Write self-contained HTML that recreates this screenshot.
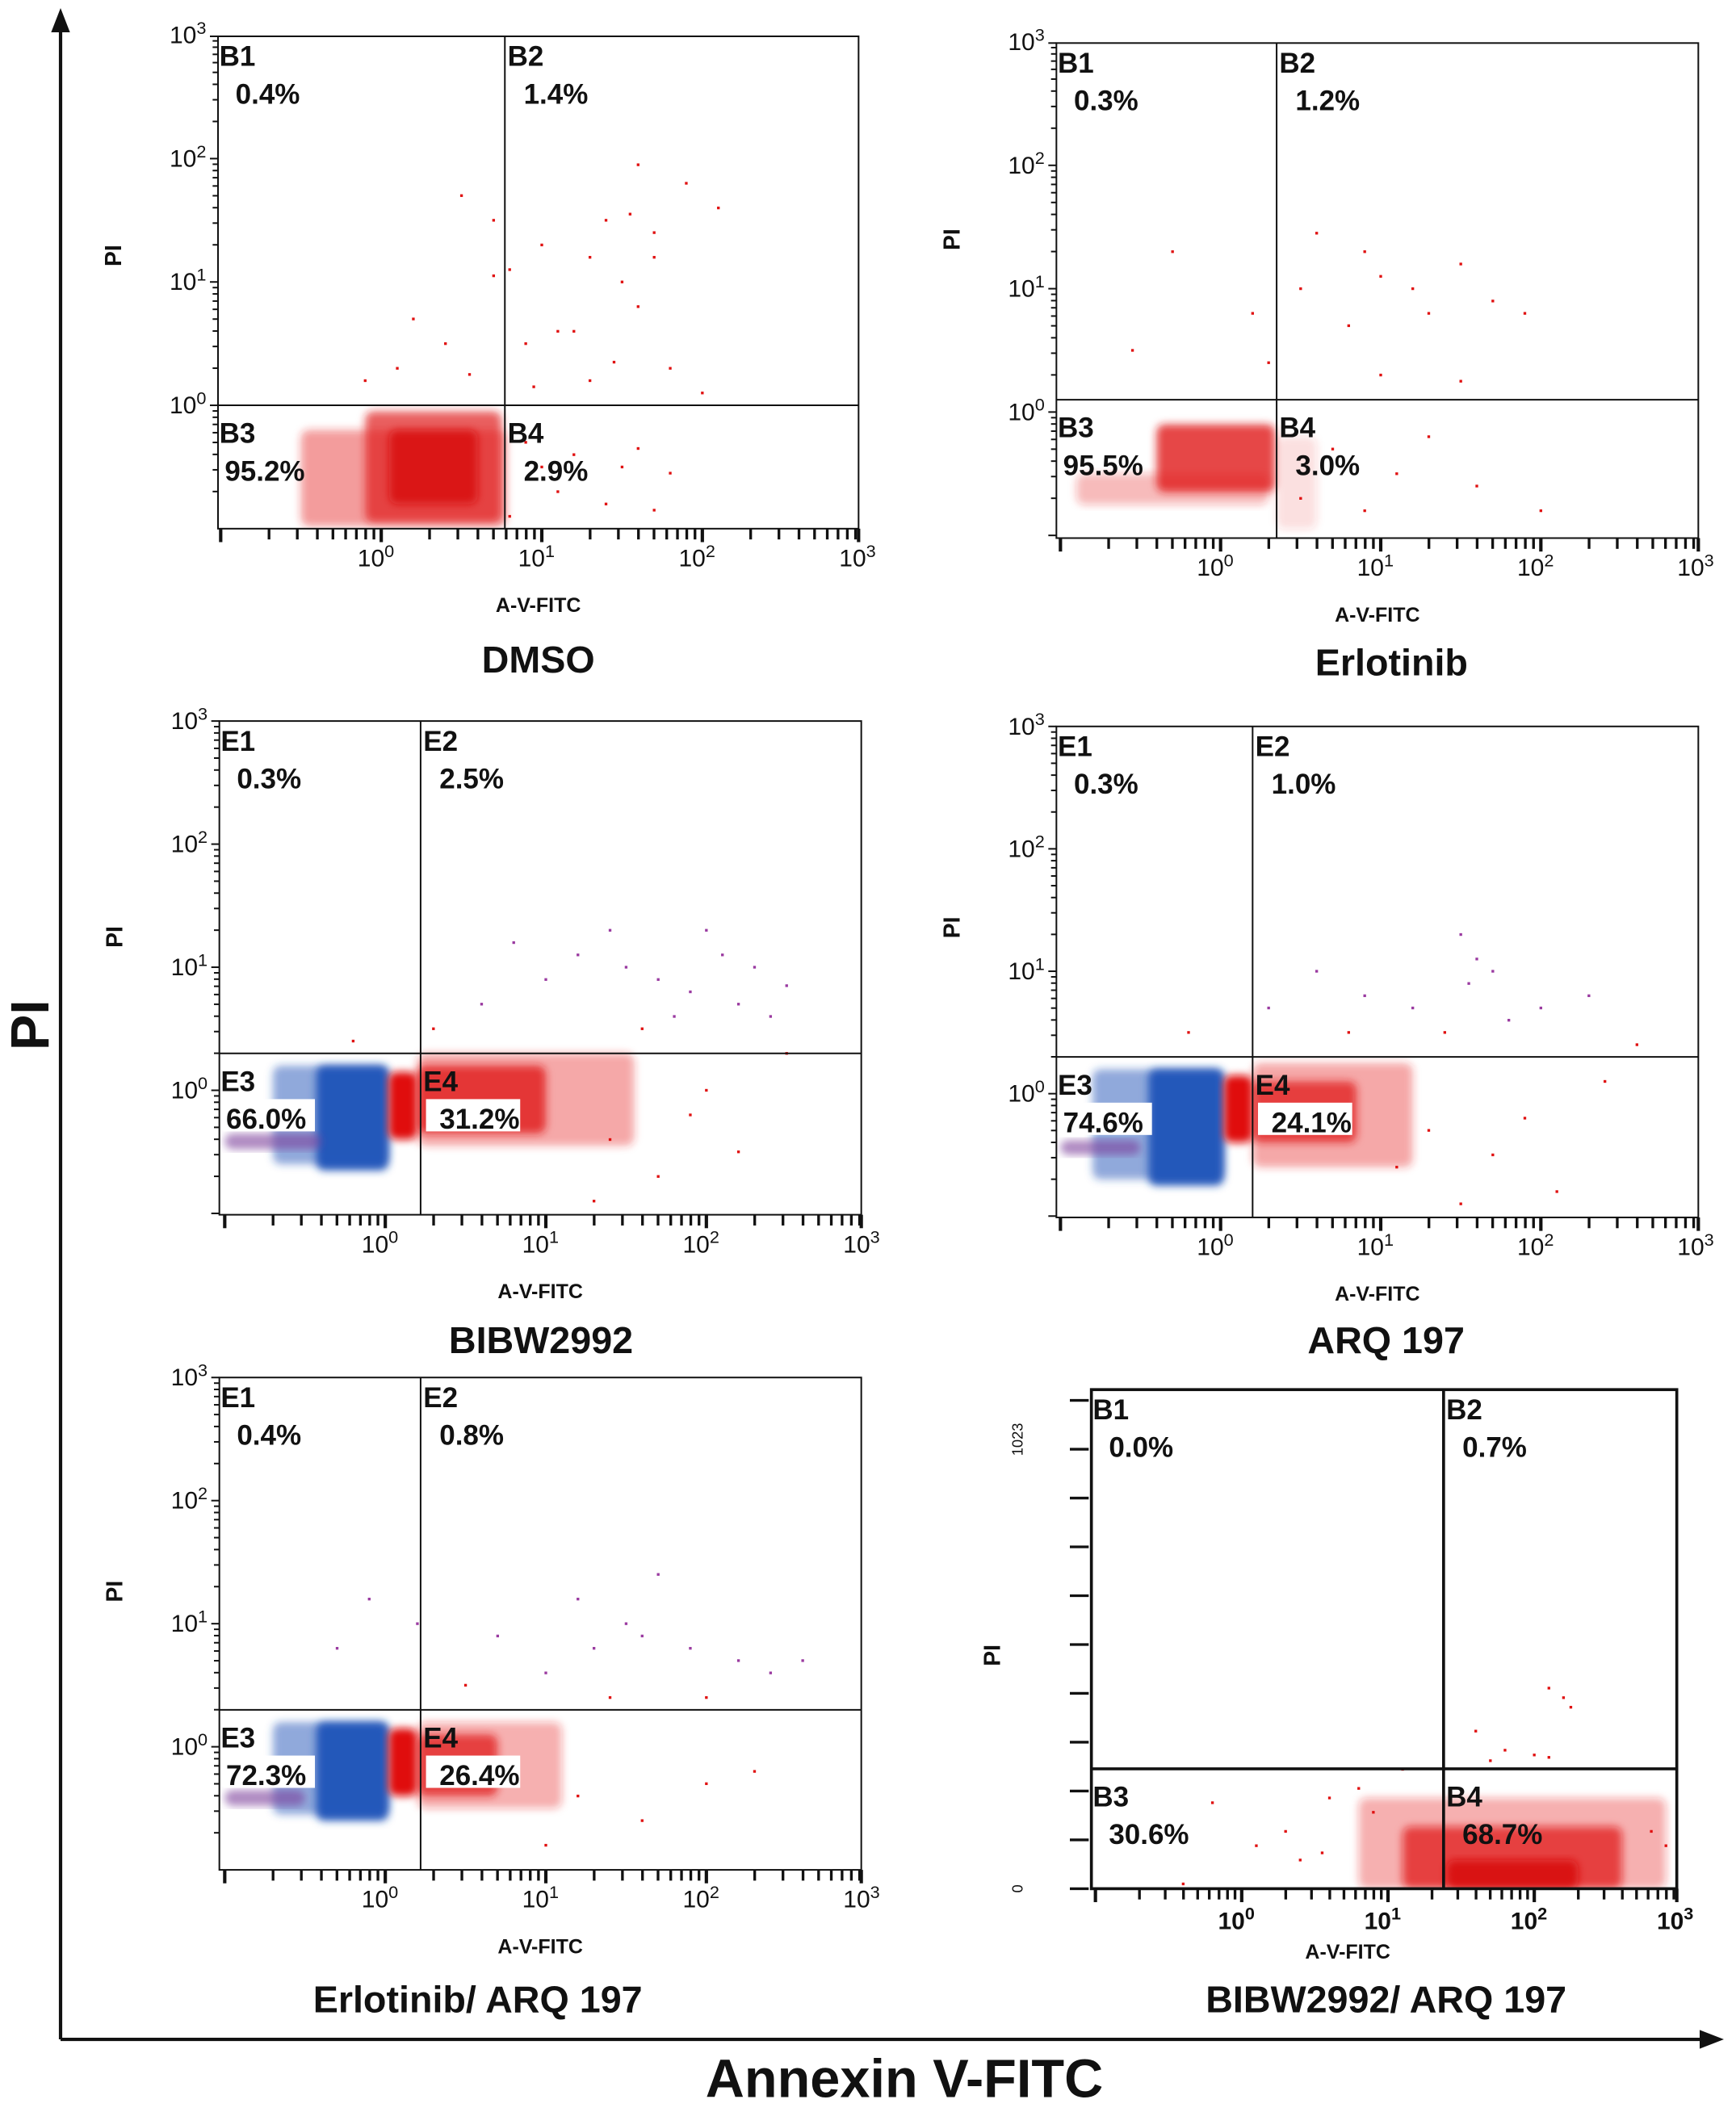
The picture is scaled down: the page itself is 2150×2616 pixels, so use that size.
<!DOCTYPE html>
<html><head><meta charset="utf-8"><style>
html,body{margin:0;padding:0;background:#fff}
svg{display:block}
text{font-family:"Liberation Sans",sans-serif;fill:#111}
</style></head><body>
<svg id="fig" width="2150" height="2616" viewBox="0 0 1290 1570" preserveAspectRatio="none" xmlns="http://www.w3.org/2000/svg">
<defs><filter id="soft" x="-20%" y="-20%" width="140%" height="140%"><feGaussianBlur stdDeviation="3"/></filter></defs>
<g>
<line x1="45" y1="1516" x2="45" y2="22" stroke="#111" stroke-width="2.5"/>
<polygon points="45,6 38,24 52,24" fill="#111"/>
<line x1="45" y1="1516" x2="1265" y2="1516" stroke="#111" stroke-width="2.5"/>
<polygon points="1281,1516 1263,1509 1263,1523" fill="#111"/>
<text x="36" y="762" font-size="40" font-weight="bold" text-anchor="middle" transform="rotate(-90 36 762)">PI</text>
<text x="672" y="1559" font-size="40" font-weight="bold" text-anchor="middle">Annexin V-FITC</text>
</g>
</svg>
<script>
// ---- data (log10 units unless noted) ----
const panelTitles = ["DMSO","Erlotinib","BIBW2992","ARQ 197","Erlotinib/ ARQ 197","BIBW2992/ ARQ 197"];
const quadLabels = [["B1","B2","B3","B4"],["B1","B2","B3","B4"],["E1","E2","E3","E4"],["E1","E2","E3","E4"],["E1","E2","E3","E4"],["B1","B2","B3","B4"]];
const quadPercents = [["0.4%","1.4%","95.2%","2.9%"],["0.3%","1.2%","95.5%","3.0%"],["0.3%","2.5%","66.0%","31.2%"],["0.3%","1.0%","74.6%","24.1%"],["0.4%","0.8%","72.3%","26.4%"],["0.0%","0.7%","30.6%","68.7%"]];
const gateX = [0.77, 0.35, 0.22, 0.2, 0.22, 1.38];
const gateY = [0.0, 0.1, 0.3, 0.3, 0.3, 251];
const xTickLabels = ["0","1","2","3"];
// density regions: [x0,x1,y0,y1,color,opacity]
const regions1 = [[-0.5,0.78,-0.98,-0.2,"#e52222",0.45],[-0.1,0.75,-0.95,-0.05,"#e01818",0.7],[0.05,0.6,-0.8,-0.2,"#d81010",0.85]];
const regions2 = [[-0.9,0.3,-0.75,-0.5,"#e52222",0.3],[-0.4,0.34,-0.65,-0.1,"#e01818",0.8],[0.35,0.6,-0.95,-0.2,"#e52222",0.15]];
const regions3 = [[-0.7,0.02,-0.6,0.2,"#2052b8",0.5],[-0.43,0.02,-0.65,0.2,"#2052b8",0.95],[0.02,0.2,-0.4,0.15,"#e01010",1],[0.2,1.55,-0.45,0.3,"#e52222",0.4],[0.2,1.0,-0.35,0.2,"#e01818",0.8],[-1,-0.4,-0.48,-0.35,"#7a3a9a",0.6]];
const regions4 = [[-0.8,0.02,-0.7,0.2,"#2052b8",0.5],[-0.45,0.02,-0.75,0.2,"#2052b8",0.95],[0.02,0.2,-0.4,0.15,"#e01010",1],[0.2,1.2,-0.6,0.25,"#e52222",0.4],[0.2,0.85,-0.4,0.1,"#e01818",0.75],[-1,-0.5,-0.5,-0.38,"#7a3a9a",0.6]];
const regions5 = [[-0.7,0.02,-0.55,0.2,"#2052b8",0.5],[-0.43,0.02,-0.6,0.2,"#2052b8",0.95],[0.02,0.2,-0.4,0.15,"#e01010",1],[0.2,1.1,-0.5,0.2,"#e52222",0.35],[0.2,0.7,-0.4,0.1,"#e01818",0.75],[-1,-0.5,-0.48,-0.35,"#7a3a9a",0.6]];
const regions6 = [[0.8,2.9,0,190,"#e52222",0.35],[1.1,2.6,0,130,"#e01010",0.7],[1.4,2.3,0,60,"#d80808",0.9]];
// sparse events [x,y]
const points1 = [[1.6,1.95],[1.9,1.8],[2.1,1.6],[1.4,1.5],[1.7,1.4],[1.3,1.2],[0.8,1.1],[1.0,1.3],[1.5,1.0],[1.6,0.8],[1.2,0.6],[0.9,0.5],[1.8,0.3],[1.3,0.2],[0.95,0.15],[1.1,0.6],[1.7,1.2],[1.45,0.35],[2.0,0.1],[1.55,1.55],[0.5,1.7],[0.7,1.5],[0.7,1.05],[0.2,0.7],[0.4,0.5],[0.1,0.3],[-0.1,0.2],[0.55,0.25],[0.9,-0.3],[1.2,-0.4],[1.5,-0.5],[1.8,-0.55],[1.1,-0.7],[1.4,-0.8],[0.8,-0.9],[1.6,-0.35],[1.0,-0.5],[1.7,-0.85]];
const points2 = [[0.6,1.45],[0.9,1.3],[1.0,1.1],[1.2,1.0],[1.5,1.2],[1.7,0.9],[1.3,0.8],[0.8,0.7],[1.9,0.8],[0.5,1.0],[-0.3,1.3],[0.2,0.8],[-0.55,0.5],[0.3,0.4],[1.0,0.3],[1.5,0.25],[0.7,-0.3],[1.1,-0.5],[1.3,-0.2],[0.9,-0.8],[1.6,-0.6],[2.0,-0.8],[0.5,-0.7]];
const points3 = [[1.5,1.0],[1.7,0.9],[1.9,0.8],[2.1,1.1],[2.3,1.0],[2.5,0.85],[2.2,0.7],[1.8,0.6],[1.2,1.1],[1.4,1.3],[0.8,1.2],[1.0,0.9],[0.6,0.7],[2.0,1.3],[1.6,0.5],[2.4,0.6],[0.3,0.5],[-0.2,0.4],[1.4,-0.4],[1.9,-0.2],[2.2,-0.5],[1.7,-0.7],[2.0,0.0],[1.3,-0.9],[2.5,0.3]];
const points4 = [[1.5,1.3],[1.6,1.1],[1.7,1.0],[1.55,0.9],[1.2,0.7],[1.8,0.6],[2.0,0.7],[2.3,0.8],[0.6,1.0],[0.9,0.8],[0.3,0.7],[-0.2,0.5],[0.8,0.5],[1.4,0.5],[2.6,0.4],[1.3,-0.3],[1.7,-0.5],[1.9,-0.2],[1.1,-0.6],[2.1,-0.8],[1.5,-0.9],[2.4,0.1]];
const points5 = [[1.5,1.0],[1.6,0.9],[1.3,0.8],[1.9,0.8],[2.2,0.7],[2.4,0.6],[2.6,0.7],[1.0,0.6],[0.7,0.9],[1.2,1.2],[1.7,1.4],[0.2,1.0],[-0.3,0.8],[0.5,0.5],[1.4,0.4],[2.0,0.4],[-0.1,1.2],[1.2,-0.4],[1.6,-0.6],[2.0,-0.3],[1.0,-0.8],[2.3,-0.2]];
const points6 = [[2.1,420],[2.2,400],[2.25,380],[1.6,330],[1.8,290],[2.0,280],[2.1,275],[1.7,268],[0.9,160],[0.6,190],[0.3,120],[0.1,90],[-0.4,10],[0.4,60],[0.55,75],[2.8,120],[2.9,90],[1.1,250],[0.8,210],[-0.2,180]];
const configs = [
 {left:162,right:638,top:27,bottom:393,x0:164,xd:119.3,yb:393,yd:91.7,regions:regions1,points:points1,title:[400,500],pl:-20},
 {left:785,right:1262,top:32,bottom:400,x0:788,xd:119,yb:398,yd:91.7,regions:regions2,points:points2,title:[1034,502],pl:-38},
 {left:163,right:640,top:536,bottom:903,x0:167,xd:119.3,yb:902,yd:91.5,regions:regions3,points:points3,title:[402,1006],pl:-23},
 {left:785,right:1262,top:540,bottom:905,x0:788,xd:119,yb:904,yd:91,regions:regions4,points:points4,title:[1030,1006],pl:-33},
 {left:163,right:640,top:1024,bottom:1390,x0:167,xd:119.3,yb:1390,yd:91.5,regions:regions5,points:points5,title:[355,1496],pl:-24},
 {left:811,right:1246,top:1033,bottom:1404,x0:814,xd:108.7,yb:1404,lin:0.355,regions:regions6,points:points6,title:[1030,1496],pl:12}
];
const NS="http://www.w3.org/2000/svg";
const svg=document.getElementById('fig');
function mk(tag,attrs,parent){const e=document.createElementNS(NS,tag);for(const k in attrs)e.setAttribute(k,attrs[k]);parent.appendChild(e);return e;}
configs.forEach((c,i)=>{
 const sx=v=>c.x0+(v+1)*c.xd;
 const sy=v=>c.lin? c.yb-v*c.lin : c.yb-(v+1)*c.yd;
 const cx=v=>Math.max(c.left,Math.min(c.right,sx(v)));
 const cy=v=>Math.max(c.top,Math.min(c.bottom,sy(v)));
 const g=mk('g',{},svg);
 
 
 const clip=mk('clipPath',{id:'clip'+i},g);
 mk('rect',{x:c.left,y:c.top,width:c.right-c.left,height:c.bottom-c.top},clip);
 const dg=mk('g',{'clip-path':`url(#clip${i})`},g);
 
 
 c.regions.forEach(r=>{
  const x1=cx(r[0]),x2=cx(r[1]),y1=cy(r[3]),y2=cy(r[2]);
  const rc=mk('rect',{x:x1,y:y1,width:x2-x1,height:y2-y1,rx:6,fill:r[4],'fill-opacity':r[5],filter:'url(#soft)'},dg);
  
  
 });
 c.points.forEach(p=>{
  const d=mk('rect',{x:sx(p[0])-1,y:sy(p[1])-1,width:2,height:2,fill:(i>=2&&i<5&&p[1]>0.5)?'#9a3aa0':'#e01010'},g);
  
  
 });
 const lw=i==5?2.2:1.2;
 const box=mk('rect',{x:c.left,y:c.top,width:c.right-c.left,height:c.bottom-c.top,fill:'none',stroke:'#111','stroke-width':lw},g);
 
 
 const gx=sx(gateX[i]),gy=sy(gateY[i]);
 const vl=mk('line',{x1:gx,y1:c.top,x2:gx,y2:c.bottom,stroke:'#111','stroke-width':lw},g);
 
 
 const hl=mk('line',{x1:c.left,y1:gy,x2:c.right,y2:gy,stroke:'#111','stroke-width':lw},g);
 
 
 for(let d=-1;d<3;d++){for(let k=1;k<=9;k++){const v=d+Math.log10(k);const x=sx(v);if(x<c.left+2)continue;
  const t=mk('line',{x1:x,y1:c.bottom,x2:x,y2:c.bottom+(k==1?10:8),stroke:'#111','stroke-width':k==1?2.5:2},g);
  
  }}
 mk('line',{x1:c.right,y1:c.bottom,x2:c.right,y2:c.bottom+10,stroke:'#111','stroke-width':2.5},g);
 xTickLabels.forEach((l,j)=>{
  const x=sx(j);
  const t=mk('text',{x:x-4,y:c.bottom+(i==5?30:28),'font-size':18,'text-anchor':'middle','font-weight':i==5?'bold':'normal'},g);
  
  
  t.textContent='10';
  const s=mk('tspan',{dy:-7,'font-size':13},t);s.textContent=l;
 });
 if(!c.lin){
  for(let d=-1;d<3;d++){for(let k=1;k<=9;k++){const v=d+Math.log10(k);const y=sy(v);if(y>c.bottom-1)continue;
   const t=mk('line',{x1:c.left-(k==1?6:4),y1:y,x2:c.left,y2:y,stroke:'#111','stroke-width':1.2},g);
   
   }}
  mk('line',{x1:c.left-6,y1:c.top,x2:c.left,y2:c.top,stroke:'#111','stroke-width':1.2},g);
  xTickLabels.forEach((l,j)=>{
   const y=sy(j);
   const t=mk('text',{x:c.left-36,y:y+6,'font-size':18},g);
   
   
   t.textContent='10';
   const s=mk('tspan',{dy:-7,'font-size':13},t);s.textContent=l;
  });
 } else {
  for(let k=0;k<=10;k++){const y=c.bottom-k*(c.bottom-1041)/10;
   const t=mk('line',{x1:c.left-16,y1:y,x2:c.left-2,y2:y,stroke:'#111','stroke-width':2},g);
   
   }
  const a=mk('text',{x:760,y:1070,'font-size':11,'text-anchor':'middle',transform:'rotate(-90 760 1070)'},g);a.textContent='1023';
  
  
  const b=mk('text',{x:760,y:1404,'font-size':11,'text-anchor':'middle',transform:'rotate(-90 760 1404)'},g);b.textContent='0';
  
  
 }
 const py=(c.top+c.bottom)/2+c.pl;
 const px=c.left-(i==5?68:72);
 const pl=mk('text',{x:px,y:py,'font-size':17,'font-weight':'bold','text-anchor':'middle',transform:`rotate(-90 ${px} ${py})`},g);
 
 
 pl.textContent='PI';
 const xl=mk('text',{x:(c.left+c.right)/2-(i==5?27:0),y:c.bottom+(i==5?52:62),'font-size':15,'font-weight':'bold','text-anchor':'middle'},g);
 
 
 xl.textContent='A-V-FITC';
 const tt=mk('text',{x:c.title[0],y:c.title[1],'font-size':28,'font-weight':'bold','text-anchor':'middle'},g);
 
 
 tt.textContent=panelTitles[i];
 const pos=[[c.left+1,c.top+22],[gx+2,c.top+22],[c.left+1,gy+28],[gx+2,gy+28]];
 quadLabels[i].forEach((l,q)=>{
  const [x,y]=pos[q];
  if(i>=2&&i<5&&q>=2){mk('rect',{x:x+2,y:y+6,width:q==2?68:70,height:24,fill:'#fff'},g);}
  const t=mk('text',{x:x,y:y,'font-size':21,'font-weight':'bold'},g);
  
  
  t.textContent=l;
  const p=mk('text',{x:x+(q==2&&i!=5?4:12),y:y+28,'font-size':21,'font-weight':'bold'},g);
  
  
  p.textContent=quadPercents[i][q];
 });
});
</script>
</body></html>
